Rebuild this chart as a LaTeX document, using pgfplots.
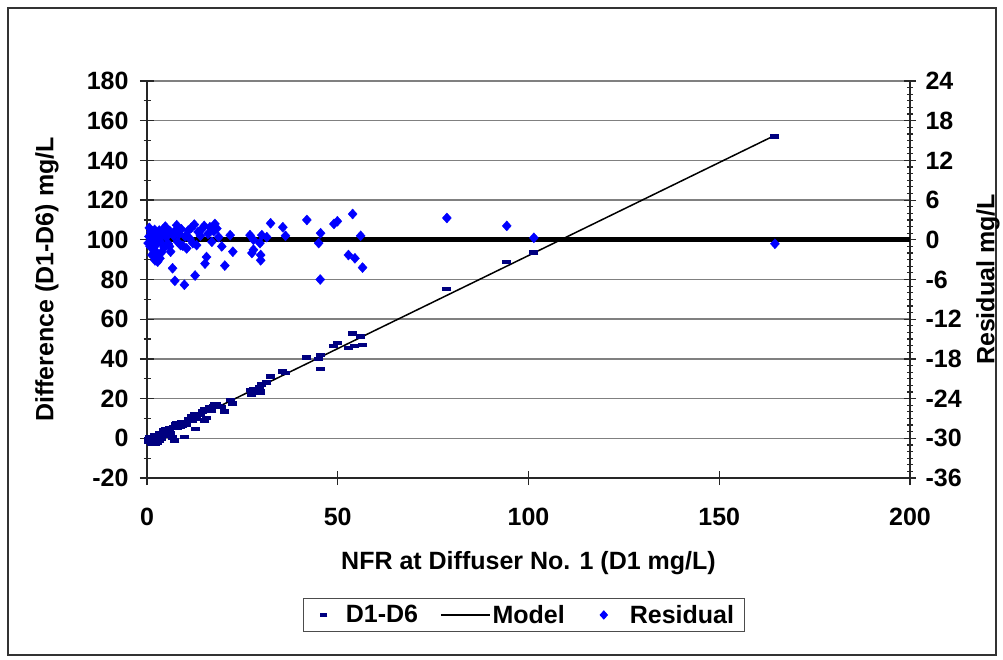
\documentclass[border=0pt]{standalone}
\usepackage{pgfplots}
\pgfplotsset{compat=1.18}
\usepackage{pgfplotstable}
\usepackage{fontspec}
\setmainfont{Liberation Sans}
\definecolor{dnavy}{RGB}{0,0,128}
\definecolor{rblue}{RGB}{0,0,255}
\newcommand{\bigfont}{\bfseries\fontsize{25}{29}\selectfont}

\pgfplotsset{
  dlegend/.style={legend image code/.code={%
    \path[draw=none] (0pt,0pt) -- (32pt,0pt);
    \draw[##1, mark size=3.5pt] plot coordinates {(12pt,0pt)};}},
  mlegend/.style={legend image code/.code={%
    \draw[##1] (0pt,0pt) -- (49pt,0pt);}},
  rlegend/.style={legend image code/.code={%
    \path[draw=none] (0pt,0pt) -- (41pt,0pt);
    \draw[##1, mark size=4pt] plot coordinates {(17pt,0pt)};}},
}

% x = D1 (mg/L), d = D1-D6 (mg/L), r = residual (mg/L)
\pgfplotstableread{
x d r
0.3 -1.9 -0.5
0.5 -0.7 0.5
0.6 0.7 1.8
0.8 -1.95 -1.0
1.0 0.44 1.2
1.2 -0.9 -0.3
1.3 -2.8 -2.3
1.5 0.5 0.8
1.6 -1.7 -1.5
1.8 0.2 0.2
2.0 1.7 1.5
2.1 -2.8 -3.1
2.3 -0.3 -0.8
2.5 1.5 0.9
2.7 -1.2 -2.0
2.8 -2.4 -3.3
3.0 1.4 0.3
3.2 2.7 1.4
3.4 -1.3 -2.8
3.6 1.3 -0.4
3.8 0.0 -1.9
4.0 2.75 0.7
4.3 3.9 1.6
4.5 1.3 -1.2
4.8 4.8 2.0
5.0 3.4 0.4
5.3 4.4 1.1
5.6 2.95 -0.6
5.9 2.8 -1.0
6.0 5.2 1.3
6.2 2.3 -1.8
6.7 0.3 -4.3
7.0 5.5 0.6
7.3 -1.1 -6.2
7.6 6.9 1.5
7.8 7.8 2.2
8.0 5.5 -0.3
8.5 7.2 0.9
8.8 5.75 -0.8
9.0 8.3 1.6
9.4 6.2 -0.9
9.8 0.7 -6.8
10.0 8.2 0.5
10.4 6.75 -1.3
10.8 9.8 1.4
11.2 9.0 0.2
11.6 11.0 1.8
12.0 9.05 -0.5
12.4 12.2 2.3
12.6 4.7 -5.4
13.0 9.7 -0.8
13.4 12.1 1.2
14.0 12.0 0.6
14.5 13.6 1.7
15.0 14.5 2.1
15.2 8.95 -3.6
15.6 10.3 -2.6
16.0 14.2 0.9
16.5 15.7 1.9
17.0 13.9 -0.3
17.5 16.0 1.3
17.8 17.4 2.4
18.3 17.2 1.7
18.8 16.3 0.4
19.6 15.7 -1.0
20.4 13.5 -3.9
21.8 19.4 0.7
22.5 17.6 -1.8
27.0 24.3 0.7
27.5 22.1 -2.0
27.9 24.5 0.0
27.9 23.0 -1.5
29.6 25.55 -0.5
29.8 23.9 -2.3
29.8 23.1 -3.1
30.1 27.2 0.7
31.4 28.1 0.4
32.4 31.2 2.5
35.6 33.6 1.9
36.3 32.9 0.6
41.9 40.6 3.0
45.0 40.0 -0.5
45.4 34.9 -6.0
45.5 41.96 1.0
49.0 46.6 2.4
49.9 47.9 2.8
52.8 45.5 -2.3
53.9 52.7 3.9
54.5 46.6 -2.8
56.0 51.4 0.6
56.5 47.1 -4.2
78.6 75.3 3.3
94.3 88.8 2.1
101.4 93.7 0.3
164.6 152.0 -0.6
}\pts

\begin{document}
\begin{tikzpicture}[x=1pt,y=1pt]
\path (0,0) rectangle (1003,659);
\draw[line width=1.2pt, black!80] (8,4) rectangle (996,651);
\begin{axis}[
  at={(147pt,181pt)}, anchor=south west,
  width=763pt, height=397pt, scale only axis,
  xmin=0, xmax=200, ymin=-20, ymax=180,
  xtick={0,50,...,200}, ytick={-20,0,...,180},
  minor y tick num=1,
  axis x line*=bottom, axis y line*=left,
  axis line style={line width=1.5pt, black!85},
  tick align=center, major tick length=14pt, minor tick length=7pt,
  tick style={line width=1.2pt, black!85},
  ymajorgrids, grid style={line width=1.5pt, gray},
  /pgf/number format/assume math mode=true,
  ticklabel style={font=\bigfont},
  yticklabel style={xshift=-8pt},
  xticklabel style={yshift=-20pt},
  label style={font=\bigfont},
  xlabel={NFR at Diffuser No. 1 (D1 mg/L)},
  ylabel={Difference (D1-D6) mg/L},
  xlabel style={at={(axis description cs:0.5,-0.214)}, anchor=center},
  ylabel style={at={(axis description cs:-0.131,0.5)}, anchor=center},
  clip=false,
]
\addplot[black, line width=1.5pt] coordinates {(0.5,-1.2) (165,153)};
\addplot[only marks, mark=-, mark size=4.5pt, dnavy, mark options={line width=4.5pt}]
  table[x=x, y=d] {\pts};
\end{axis}
\begin{axis}[
  at={(147pt,181pt)}, anchor=south west,
  width=763pt, height=397pt, scale only axis,
  xmin=0, xmax=200, ymin=-36, ymax=24,
  ytick={-36,-30,...,24}, minor y tick num=5,
  axis x line=none, axis y line*=right,
  axis line style={line width=1.5pt, black!85},
  tick align=center, major tick length=12pt, minor tick length=6pt,
  tick style={line width=1.2pt, black!85},
  /pgf/number format/assume math mode=true,
  ticklabel style={font=\bigfont},
  yticklabel style={xshift=6pt},
  label style={font=\bigfont},
  ylabel={Residual mg/L},
  ylabel style={at={(axis description cs:1.102,0.5)}, anchor=center},
  legend style={at={(0.494,-0.345)}, anchor=center, draw=black!70,
    line width=1pt, font=\bigfont, inner xsep=8pt, inner ysep=5pt,
    /tikz/every even column/.append style={column sep=20pt}},
  legend columns=3,
]
\addlegendimage{only marks, mark=-, mark size=4.5pt, dnavy, mark options={line width=4.5pt}, dlegend}
\addlegendentry{D1-D6}
\addlegendimage{black, line width=1.5pt, mlegend}
\addlegendentry{Model}
\addplot[black, line width=5pt, forget plot] coordinates {(0,0) (200,0)};
\addplot[only marks, mark=diamond*, mark size=5pt, rblue, mark options={xscale=1.2}, rlegend]
  table[x=x, y=r] {\pts};
\addlegendentry{Residual}
\end{axis}
\end{tikzpicture}
\end{document}
